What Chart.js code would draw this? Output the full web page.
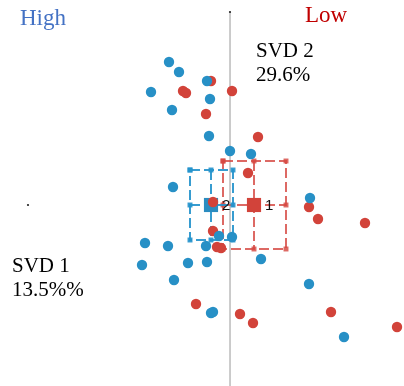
<!DOCTYPE html>
<html><head><meta charset="utf-8">
<script src="https://cdn.jsdelivr.net/npm/chart.js@4/dist/chart.umd.min.js"></script>
<style>
html,body{margin:0;padding:0;background:#fff;}
#wrap{position:relative;width:404px;height:386px;}
canvas{position:absolute;left:0;top:0;}
.t{position:absolute;font-family:"Liberation Serif","Times New Roman",serif;white-space:nowrap;line-height:24px;}
</style></head>
<body>
<div id="wrap">
<canvas id="c" width="404" height="386"></canvas>
<div class="t" style="left:20px;top:6px;font-size:23px;color:#4472C4;">High</div>
<div class="t" style="left:305px;top:3px;font-size:23px;color:#C00000;">Low</div>
<div class="t" style="left:256px;top:38px;font-size:21px;color:#000;">SVD 2<br>29.6%</div>
<div class="t" style="left:12px;top:253px;font-size:21px;color:#000;">SVD 1<br>13.5%%</div>
</div>
<script>
// Group "High" (blue) points: SVD 1 (x), SVD 2 (y)
const highX = [-0.61,-0.51,-0.23,-0.79,-0.20,-0.58,-0.21,0.00,0.21,-0.57,0.80,-0.11,0.02,-0.85,-0.62,-0.24,0.31,-0.88,-0.42,-0.23,-0.56,0.79,-0.19,-0.17,1.14];
const highY = [1.43,1.33,1.24,1.13,1.06,0.95,0.69,0.54,0.51,0.18,0.07,-0.31,-0.32,-0.38,-0.41,-0.41,-0.54,-0.60,-0.58,-0.57,-0.75,-0.79,-1.08,-1.07,-1.32];
// Group "Low" (red) points
const lowX = [-0.19,-0.47,-0.44,0.02,-0.24,0.28,0.18,-0.17,0.79,0.88,1.35,-0.17,-0.13,-0.09,-0.34,0.10,0.23,1.01,1.67];
const lowY = [1.24,1.14,1.12,1.14,0.91,0.68,0.32,0.03,-0.02,-0.14,-0.18,-0.26,-0.42,-0.43,-0.99,-1.09,-1.18,-1.07,-1.22];
// Cluster centroids and spreads: [blue "2", red "1"]
const clusterLabels = ["2","1"];
const centX = [-0.19, 0.24];
const centY = [0.0, 0.0];
const boxXLow = [-0.40, -0.07];
const boxXHigh = [0.03, 0.56];
const boxYLow = [-0.35, -0.44];
const boxYHigh = [0.35, 0.44];
// axis line extents
const axisTop = 1.93, axisBottom = -1.81, axisLeft = -2.02;

const BLUE = '#2790c6', RED = '#d2433a';
const BOXC = ['rgba(38,148,204,0.92)','rgba(214,72,66,0.82)'];
const CENTC = ['#2a8cc0','#d2433a'];

function pts(xs, ys){ return xs.map((x,i)=>({x:x,y:ys[i]})); }

const datasets = [];
datasets.push({label:'High', data:pts(highX,highY), backgroundColor:BLUE, borderWidth:0, pointRadius:5.2, order:0});
datasets.push({label:'Low', data:pts(lowX,lowY), backgroundColor:RED, borderWidth:0, pointRadius:5.2, order:1});
for(let k=0;k<2;k++){
  const cx=centX[k], cy=centY[k], x0=boxXLow[k], x1=boxXHigh[k], y0=boxYLow[k], y1=boxYHigh[k];
  datasets.push({data:[{x:cx,y:cy}], backgroundColor:CENTC[k], borderWidth:0, pointStyle:'rect', pointRadius:10, order:2+k});
  const rect=[{x:x0,y:y1},{x:cx,y:y1},{x:x1,y:y1},{x:x1,y:cy},{x:x1,y:y0},{x:cx,y:y0},{x:x0,y:y0},{x:x0,y:cy},{x:x0,y:y1}];
  datasets.push({data:rect, showLine:true, borderColor:BOXC[k], borderWidth:2, borderDash:[10,4], backgroundColor:BOXC[k], pointStyle:'rect', pointRadius:3.5, borderCapStyle:'butt', pointBorderWidth:0, order:5+k});
  datasets.push({data:[{x:cx,y:y1},{x:cx,y:y0}], showLine:true, borderColor:BOXC[k], borderWidth:2, borderDash:[10,4], pointRadius:0, order:5+k});
  datasets.push({data:[{x:x0,y:cy},{x:x1,y:cy}], showLine:true, borderColor:BOXC[k], borderWidth:2, borderDash:[10,4], pointRadius:0, order:5+k});
}
datasets.push({data:[{x:0,y:axisTop},{x:0,y:axisBottom}], showLine:true, borderColor:'#c4c4c4', borderWidth:1, pointRadius:0, order:20});
datasets.push({data:[{x:0,y:axisTop},{x:axisLeft,y:0}], showLine:false, backgroundColor:'#222', pointRadius:1.1, borderWidth:0, order:19});

const labelPlugin = {
  id:'clusterLabels',
  afterDatasetsDraw(chart){
    const {ctx, scales:{x, y}} = chart;
    ctx.save();
    ctx.fillStyle='#111';
    ctx.font='15px "Liberation Sans", Arial, sans-serif';
    ctx.textBaseline='middle';
    for(let k=0;k<2;k++){
      ctx.fillText(clusterLabels[k], x.getPixelForValue(centX[k])+11, y.getPixelForValue(centY[k])+1);
    }
    ctx.restore();
  }
};

new Chart(document.getElementById('c'), {
  type:'scatter',
  data:{datasets:datasets},
  options:{
    responsive:false, animation:false,
    layout:{padding:0, autoPadding:false},
    plugins:{legend:{display:false}, tooltip:{enabled:false}},
    scales:{
      x:{type:'linear', min:-2.30, max:1.74, display:false},
      y:{type:'linear', min:-1.81, max:2.05, display:false}
    }
  },
  plugins:[labelPlugin]
});
</script>
</body></html>
